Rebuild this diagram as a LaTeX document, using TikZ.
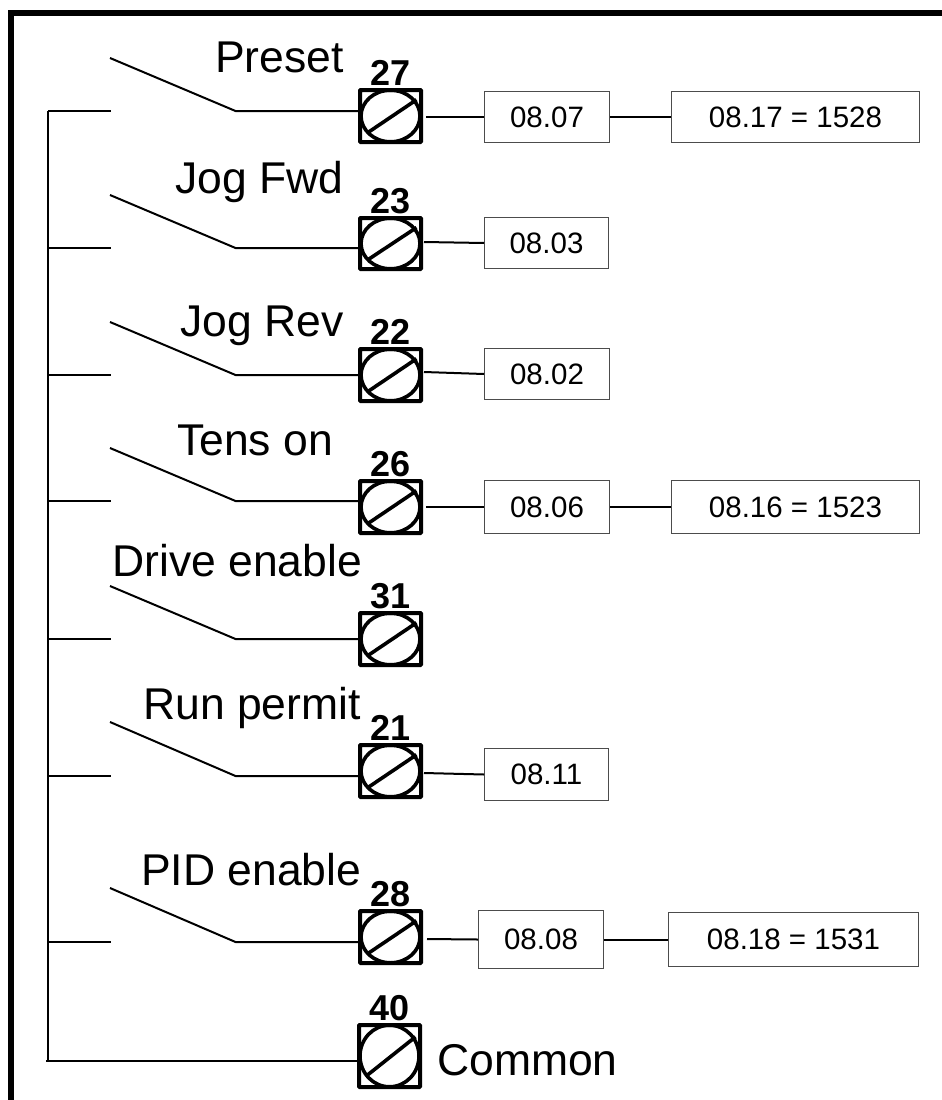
\documentclass[tikz,border=0pt]{standalone}
\usepackage{fontspec}
\setmainfont{Liberation Sans}
\usetikzlibrary{calc}
\newcommand{\termnode}[5]{% name, left, top, bottom, label
  \node[termbox, minimum width=61pt, minimum height={(#4-#3-4)*1pt}, anchor=north west] (#1) at (#2,#3) {};
  \draw[termline] (#1.center) ellipse [x radius=29.5pt, y radius={((#4-#3)/2-2.2)*1pt}];
  \draw[termline] ($(#1.center)+(-23,{(#4-#3)*0.3})$) -- ($(#1.center)+(26,{-(#4-#3)*0.29})$);
  \node[numlabel] (#1lab) at ($(#1.north)+(0,-2.5)$) {#5};
}
\newcommand{\switchrow}[4]{% name, switch y, line y, terminal
  \coordinate (#1a) at (48,#3);
  \coordinate (#1b) at (111,#3);
  \coordinate (#1c) at (110,#2);
  \coordinate (#1d) at (235.5,#3);
  \coordinate (#1e) at (#4.west |- #1a);
  \draw[wire] (#1a) -- (#1b);
  \draw[wire] (#1c) -- (#1d) -- (#1e);
}
\tikzset{
  x=1pt,y=-1pt,
  termbox/.style={draw=black,line width=4pt,rounded corners=0.8pt,inner sep=0pt,fill=white},
  termline/.style={draw=black,line width=3.6pt},
  numlabel/.style={font=\fontsize{36}{36}\selectfont\bfseries,anchor=base,inner sep=0pt},
  wire/.style={draw=black,line width=2pt},
  valbox/.style={draw=black!70,line width=1pt,inner sep=0pt,font=\fontsize{29.5}{29.5}\selectfont,anchor=north west},
  biglabel/.style={font=\fontsize{44.5}{44.5}\selectfont,anchor=base west,inner sep=0pt},
  frame/.style={draw=black,line width=6.5pt,line cap=butt},
}
\newcommand{\valnode}[6]{% name, x1, y1, x2, y2, text
  \node[valbox,minimum width={(#4-#2)*1pt},minimum height={(#5-#3)*1pt}] (#1) at (#2,#3) {#6};
}
\begin{document}
\begin{tikzpicture}
\useasboundingbox (0,0) rectangle (942,1100);
\fill[white] (0,0) rectangle (942,1100);
\coordinate (f1) at (11,1100);
\coordinate (f2) at (11,13);
\coordinate (f3) at (942,13);
\draw[frame,line join=miter] (f1) -- (f2) -- (f3);

\termnode{t27}{358}{88}{144}{27}
\termnode{t23}{358}{216}{271}{23}
\termnode{t22}{358}{347}{403}{22}
\termnode{t26}{358}{479}{535}{26}
\termnode{t31}{358}{611}{667}{31}
\termnode{t21}{358}{743}{799}{21}
\termnode{t28}{358}{909}{965}{28}
\termnode{t40}{357}{1023}{1089}{40}

\switchrow{r27}{58}{111}{t27}
\switchrow{r23}{195}{248}{t23}
\switchrow{r22}{322}{375}{t22}
\switchrow{r26}{448}{501}{t26}
\switchrow{r31}{586}{639}{t31}
\switchrow{r21}{722}{776}{t21}
\switchrow{r28}{888}{942}{t28}

\coordinate (bustop) at (48,111);
\coordinate (busbot) at (48,1061);
\coordinate (comstart) at (46,1061);
\coordinate (comend) at (t40.west |- comstart);
\draw[wire] (bustop) -- (busbot);
\draw[wire] (comstart) -- (comend);

\valnode{b0807}{484}{91}{609}{142}{08.07}
\valnode{b0817}{671}{91}{919}{142}{08.17 = 1528}
\valnode{b0803}{484}{217}{608}{268}{08.03}
\valnode{b0802}{484}{348}{609}{399}{08.02}
\valnode{b0806}{484}{480}{609}{533}{08.06}
\valnode{b0816}{671}{480}{919}{533}{08.16 = 1523}
\valnode{b0811}{484}{748}{608}{800}{08.11}
\valnode{b0808}{478}{910}{603}{968}{08.08}
\valnode{b0818}{668}{912}{918}{966}{08.18 = 1531}

\coordinate (o27) at (426,117);
\coordinate (o23) at (424,242);
\coordinate (o22) at (424,372);
\coordinate (o26) at (426,507);
\coordinate (o21) at (424,773);
\coordinate (o28) at (427,939);
\draw[wire] (o27) -- (b0807.west);
\draw[wire] (b0807.east) -- (b0817.west);
\draw[wire] (o23) -- (b0803.west);
\draw[wire] (o22) -- (b0802.west);
\draw[wire] (o26) -- (b0806.west);
\draw[wire] (b0806.east) -- (b0816.west);
\draw[wire] (o21) -- (b0811.west);
\draw[wire] (o28) -- (b0808.west);
\draw[wire] (b0808.east) -- (b0818.west);

\node[biglabel] (lpreset) at (215,72) {Preset};
\node[biglabel] (ljog) at (175,193) {Jog Fwd};
\node[biglabel] (ljogr) at (180,336) {Jog Rev};
\node[biglabel] (ltens) at (177,455) {Tens on};
\node[biglabel] (ldrive) at (112,576) {Drive enable};
\node[biglabel] (lrun) at (143,719) {Run permit};
\node[biglabel] (lpid) at (141,885) {PID enable};
\node[biglabel] (lcom) at (437,1075) {Common};
\end{tikzpicture}
\end{document}
